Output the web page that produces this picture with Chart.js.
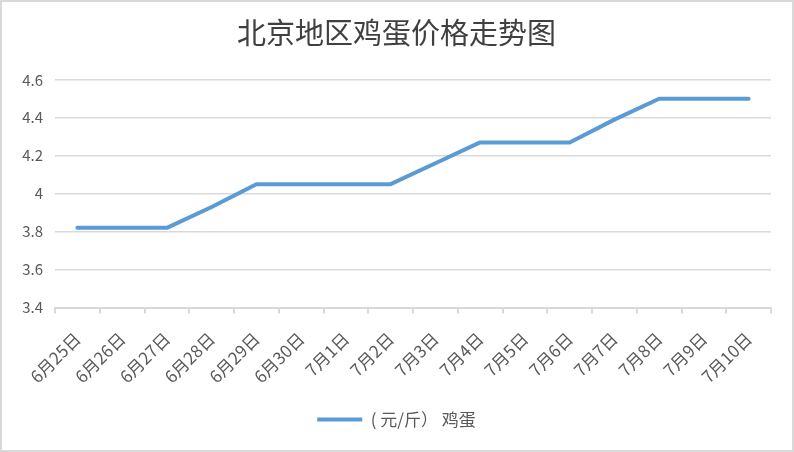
<!DOCTYPE html>
<html><head><meta charset="utf-8">
<script src="https://cdn.jsdelivr.net/npm/chart.js@4"></script>
<style>
html,body{margin:0;padding:0;background:#fff;}
#wrap{width:794px;height:452px;box-sizing:border-box;border:2px solid #d9d9d9;position:relative;}
canvas{display:block;}
</style></head><body>
<div id="wrap"><canvas id="c" width="790" height="448"></canvas></div>
<script>
const categories = ['6月25日','6月26日','6月27日','6月28日','6月29日','6月30日','7月1日','7月2日','7月3日','7月4日','7月5日','7月6日','7月7日','7月8日','7月9日','7月10日'];
const eggPrices = [3.82,3.82,3.82,3.93,4.05,4.05,4.05,4.05,4.16,4.27,4.27,4.27,4.39,4.5,4.5,4.5];
const seriesName = '( 元/斤） 鸡蛋';
const chartTitle = '北京地区鸡蛋价格走势图';
const yMin = 3.4, yMax = 4.6, yStep = 0.2;

const blue = '#5b9bd5';
const grid = '#d9d9d9';
const textColor = '#595959';
const fam = '"Noto Sans CJK SC", "Open Sans", sans-serif';

new Chart(document.getElementById('c'), {
  type: 'line',
  data: {
    labels: categories,
    datasets: [{
      label: seriesName,
      data: eggPrices,
      borderColor: blue,
      backgroundColor: blue,
      borderWidth: 4,
      pointRadius: 0,
      tension: 0,
      borderCapStyle: 'round',
      borderJoinStyle: 'round'
    }]
  },
  options: {
    responsive: false,
    animation: false,
    layout: { padding: { left: 20, right: 21, top: 10, bottom: 12 } },
    plugins: {
      title: {
        display: true,
        text: chartTitle,
        color: '#404040',
        font: { family: fam, size: 29, weight: 'normal' },
        padding: { top: 4, bottom: 29 }
      },
      legend: {
        position: 'bottom',
        labels: {
          color: textColor,
          font: { family: fam, size: 17 },
          boxWidth: 45,
          boxHeight: 4,
          padding: 9,
          generateLabels(chart) {
            const l = Chart.defaults.plugins.legend.labels.generateLabels(chart);
            l.forEach(i => { i.lineWidth = 0; i.fillStyle = blue; i.strokeStyle = blue; });
            return l;
          }
        }
      },
      tooltip: { enabled: false }
    },
    scales: {
      x: {
        offset: true,
        afterFit(scale) { scale.paddingLeft = 0; scale.paddingRight = 0; },
        grid: { offset: true, drawOnChartArea: false, drawTicks: true, tickLength: 6, color: grid, lineWidth: 2 },
        border: { color: grid, width: 2 },
        ticks: { color: textColor, font: { family: fam, size: 17 }, minRotation: 45, maxRotation: 45, autoSkip: false, padding: 15 }
      },
      y: {
        min: yMin, max: yMax,
        afterFit(scale) { scale.width = 33; },
        grid: { color: grid, lineWidth: 1.5, drawTicks: false },
        border: { display: false },
        ticks: {
          stepSize: yStep, color: textColor, font: { family: fam, size: 15 }, padding: 12,
          callback: v => String(parseFloat(v.toFixed(2)))
        }
      }
    }
  }
});
</script>
</body></html>
